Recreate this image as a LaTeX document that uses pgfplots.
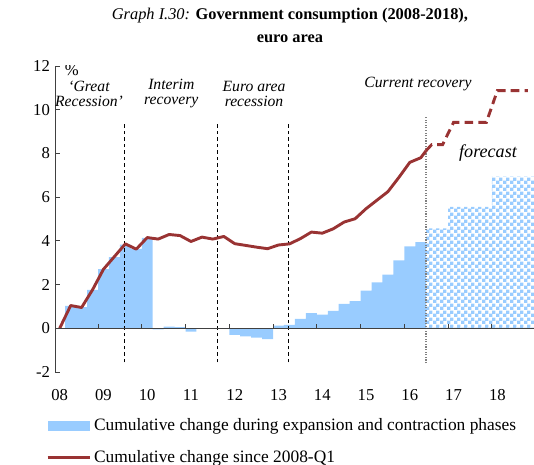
\documentclass[border=0pt]{standalone}
\usepackage{fontspec}
\setmainfont{Liberation Serif}
\usepackage{pgfplots}
\pgfplotsset{compat=1.18}
\usetikzlibrary{patterns}

\definecolor{barblue}{RGB}{153,204,255}
\definecolor{linered}{RGB}{153,51,51}
\definecolor{axisgray}{RGB}{64,64,64}

% small checkerboard for the forecast bars
\pgfdeclarepatternformonly{finechecker}{\pgfqpoint{0pt}{0pt}}{\pgfqpoint{4.6pt}{4.6pt}}{\pgfqpoint{4.6pt}{4.6pt}}{%
  \pgfpathrectangle{\pgfqpoint{0pt}{0pt}}{\pgfqpoint{2.4pt}{2.4pt}}%
  \pgfpathrectangle{\pgfqpoint{2.3pt}{2.3pt}}{\pgfqpoint{2.4pt}{2.4pt}}%
  \pgfusepath{fill}}

\begin{document}
\begin{tikzpicture}
\useasboundingbox (0,0) rectangle (368.5pt,320.2pt);

% title
\node[align=center, font=\fontsize{11.3}{15.9}\selectfont] at (200.1pt,302.4pt)
  {\textit{Graph I.30:} \textbf{Government consumption (2008-2018),}\\\textbf{euro area}};

\begin{axis}[
  at={(37.96pt,63.49pt)}, anchor=south west,
  scale only axis, width=330.6pt, height=211.2pt,
  xmin=-0.43, xmax=43.36, ymin=-2, ymax=12,
  axis y line*=left, axis x line*=bottom,
  x axis line style={draw=none},
  y axis line style={-, axisgray, line width=0.6pt},
  xtick={0,4,...,40},
  xticklabels={08,09,10,11,12,13,14,15,16,17,18},
  xtick style={draw=none},
  xticklabel style={yshift=-8.5pt},
  ytick={-2,0,...,12},
  yticklabels={-2,0,2,4,6,8,10,12},
  ytick style={axisgray, line width=0.6pt},
  tick align=inside, major tick length=3.5pt,
  tick label style={font=\fontsize{11.5}{13}\selectfont},
  legend style={at={(axis description cs:-0.019,-0.142)}, anchor=north west,
    draw=none, fill=none, font=\fontsize{12}{14}\selectfont,
    row sep=7.8pt, inner sep=0pt},
  legend cell align=left,
]
% cumulative change during phases (quarters, 0 = 2008-Q1)
\addplot[ybar, bar width=1, bar shift=0pt, fill=barblue, draw=none,
  legend image code/.code={\fill[barblue] (0pt,-3.5pt) rectangle (29pt,3.5pt);}]
  coordinates {
  (1,1.03) (2,0.97) (3,1.76) (4,2.71) (5,3.26) (6,3.83) (7,3.63) (8,4.14)
  (9,-0.05) (10,0.07) (11,0.05) (12,-0.15) (13,0.01) (14,-0.03) (15,0.0)
  (16,-0.30) (17,-0.37) (18,-0.43) (19,-0.50)
  (20,0.12) (21,0.15) (22,0.43) (23,0.69) (24,0.63) (25,0.80) (26,1.12)
  (27,1.24) (28,1.72) (29,2.10) (30,2.45) (31,3.11) (32,3.75) (33,3.94)
  };
\addlegendentry{Cumulative change during expansion and contraction phases}
% forecast bars
\addplot[forget plot, ybar, bar width=1, bar shift=0pt, draw=none,
  pattern=finechecker, pattern color=barblue]
  coordinates {
  (34,4.57) (35,4.57) (36,5.55) (37,5.55) (38,5.55) (39,5.55)
  (40,6.94) (41,6.94) (42,6.94) (43,6.94)
  };
% phase separators
\addplot[forget plot, black, dash pattern=on 2.5pt off 2pt, line width=0.6pt]
  coordinates {(5.88,-1.56) (5.88,9.45)};
\addplot[forget plot, black, dash pattern=on 2.5pt off 2pt, line width=0.6pt]
  coordinates {(14.38,-1.56) (14.38,9.45)};
\addplot[forget plot, black, dash pattern=on 2.5pt off 2pt, line width=0.6pt]
  coordinates {(20.87,-1.56) (20.87,9.45)};
\addplot[forget plot, gray, densely dotted, line width=0.8pt]
  coordinates {(33.48,-1.6) (33.48,9.7)};
% cumulative change since 2008-Q1
\addplot[linered, line width=2pt, line join=round,
  legend image code/.code={\draw[linered, line width=2pt] (0pt,0pt) -- (29pt,0pt);}]
  coordinates {
  (0,0) (1,1.04) (2,0.95) (3,1.76) (4,2.70) (5,3.28) (6,3.86) (7,3.62)
  (8,4.15) (9,4.08) (10,4.29) (11,4.24) (12,3.97) (13,4.17) (14,4.08)
  (15,4.20) (16,3.87) (17,3.79) (18,3.71) (19,3.64) (20,3.81) (21,3.86)
  (22,4.10) (23,4.40) (24,4.35) (25,4.55) (26,4.86) (27,5.01) (28,5.47)
  (29,5.86) (30,6.25) (31,6.90) (32,7.59) (33,7.80) (33.48,8.12)
  };
\addlegendentry{Cumulative change since 2008-Q1}
\addplot[forget plot, linered, line width=2pt, dash pattern=on 6pt off 3.5pt]
  coordinates {
  (33.48,8.12) (34,8.40) (35,8.40) (36,9.42) (39,9.42) (40,10.87) (42.8,10.87)
  };

\node[font=\fontsize{11.5}{13}\selectfont] at (axis cs:1.1,11.8) {\%};
\node[align=center, font=\itshape\fontsize{10.8}{10.5}\selectfont]
  at (axis cs:2.68,10.73) {‘Great\\Recession’};
\node[align=center, font=\itshape\fontsize{10.8}{10.5}\selectfont]
  at (axis cs:10.2,10.73) {Interim\\recovery};
\node[align=center, font=\itshape\fontsize{10.8}{10.5}\selectfont]
  at (axis cs:17.76,10.73) {Euro area\\recession};
\node[font=\itshape\fontsize{10.8}{10.5}\selectfont]
  at (axis cs:32.75,11.16) {Current recovery};
\node[font=\itshape\fontsize{12.5}{14}\selectfont]
  at (axis cs:39.15,8.0) {forecast};
\end{axis}

% zero line with year-boundary ticks
\begin{axis}[
  at={(37.96pt,93.66pt)}, anchor=south west,
  scale only axis, width=330.6pt, height=10pt,
  xmin=-0.43, xmax=43.36, ymin=0, ymax=1,
  axis x line*=bottom, axis y line=none,
  x axis line style={-, axisgray, line width=0.6pt},
  xtick={3.5,7.5,...,39.5}, xticklabels={},
  tick align=inside, major tick length=3pt,
  xtick style={axisgray, line width=0.6pt},
]
\addplot[draw=none] coordinates {(0,0)};
\end{axis}
\end{tikzpicture}
\end{document}
